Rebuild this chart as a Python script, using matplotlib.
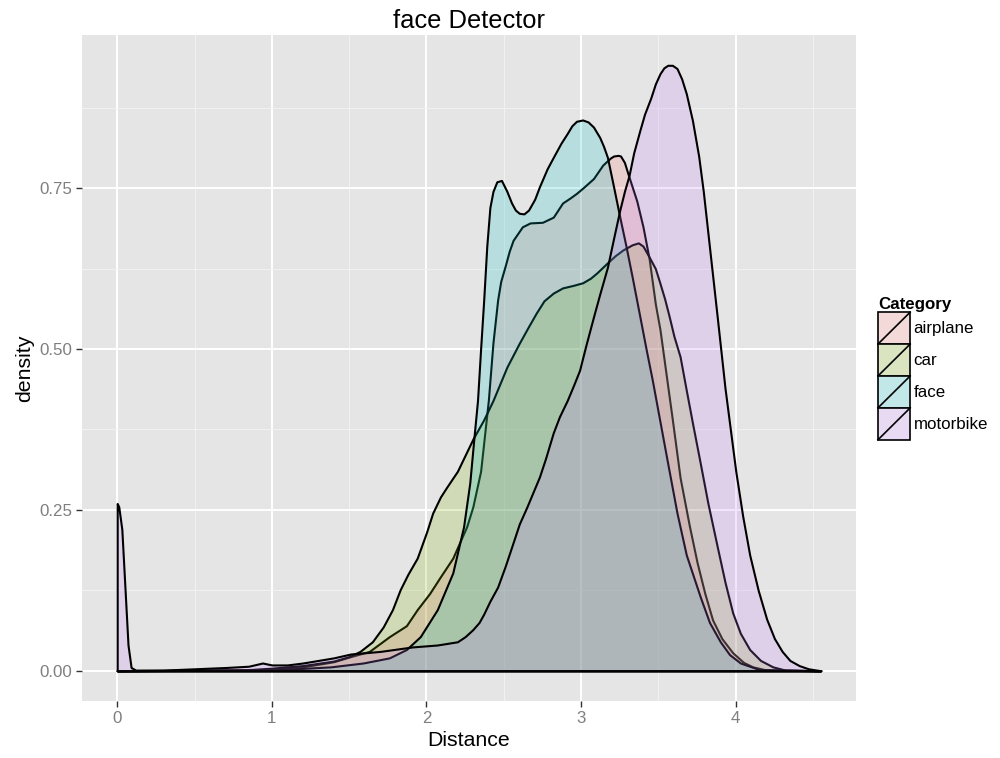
import matplotlib
matplotlib.use("Agg")
import matplotlib.pyplot as plt
from matplotlib.legend_handler import HandlerBase
from matplotlib.patches import Rectangle, Patch
from matplotlib.lines import Line2D
import numpy as np

plt.rcParams["font.family"] = ["Liberation Sans", "DejaVu Sans"]

categories = ["airplane", "car", "face", "motorbike"]
colors = ["#F8766D", "#7CAE00", "#00BFC4", "#C77CFF"]

# density curves
airplane_x = [0, 1.0, 1.2, 1.4, 1.51, 1.63, 1.76, 1.87, 1.94, 2.02, 2.09, 2.17, 2.26,
              2.30, 2.35, 2.40, 2.43, 2.46, 2.48, 2.51, 2.535, 2.56, 2.62, 2.67, 2.75,
              2.82, 2.85, 2.88, 2.93, 2.97, 3.01, 3.08, 3.14, 3.19, 3.21, 3.24, 3.255,
              3.28, 3.31, 3.36, 3.40, 3.44, 3.48, 3.51, 3.55, 3.59, 3.64, 3.70, 3.75,
              3.80, 3.85, 3.91, 3.98, 4.05, 4.11, 4.20, 4.55]
airplane_y = [0, 0.002, 0.006, 0.014, 0.022, 0.030, 0.053, 0.070, 0.095, 0.120, 0.146,
              0.175, 0.224, 0.255, 0.310, 0.420, 0.510, 0.576, 0.605, 0.630, 0.652,
              0.669, 0.690, 0.696, 0.697, 0.705, 0.716, 0.727, 0.735, 0.742, 0.750,
              0.765, 0.786, 0.797, 0.800, 0.801, 0.800, 0.790, 0.767, 0.730, 0.690,
              0.640, 0.570, 0.530, 0.460, 0.390, 0.300, 0.225, 0.168, 0.120, 0.079,
              0.050, 0.028, 0.013, 0.006, 0.001, 0]

car_x = [0, 0.8, 1.0, 1.2, 1.4, 1.5, 1.57, 1.65, 1.72, 1.78, 1.83, 1.88, 1.94, 2.00,
         2.04, 2.09, 2.13, 2.20, 2.25, 2.30, 2.37, 2.43, 2.52, 2.60, 2.66, 2.71, 2.76,
         2.82, 2.88, 2.95, 3.01, 3.06, 3.10, 3.17, 3.22, 3.27, 3.33, 3.37, 3.40, 3.44,
         3.48, 3.51, 3.54, 3.57, 3.60, 3.64, 3.68, 3.72, 3.77, 3.82, 3.88, 3.93, 3.98,
         4.03, 4.09, 4.16, 4.24, 4.32, 4.55]
car_y = [0, 0.001, 0.004, 0.008, 0.015, 0.022, 0.030, 0.045, 0.068, 0.095, 0.126,
         0.150, 0.175, 0.215, 0.245, 0.270, 0.285, 0.310, 0.335, 0.360, 0.390, 0.420,
         0.472, 0.509, 0.535, 0.556, 0.575, 0.587, 0.595, 0.599, 0.603, 0.610, 0.618,
         0.634, 0.645, 0.654, 0.662, 0.665, 0.660, 0.643, 0.625, 0.602, 0.578, 0.550,
         0.520, 0.488, 0.436, 0.385, 0.323, 0.260, 0.193, 0.138, 0.090, 0.058, 0.033,
         0.016, 0.006, 0.001, 0]

face_x = [0, 1.0, 1.38, 1.59, 1.76, 1.87, 1.96, 2.07, 2.17, 2.24, 2.28, 2.31, 2.33,
          2.35, 2.37, 2.39, 2.41, 2.43, 2.455, 2.485, 2.52, 2.55, 2.575, 2.60, 2.63,
          2.66, 2.70, 2.73, 2.78, 2.82, 2.87, 2.91, 2.94, 2.97, 3.01, 3.045, 3.08,
          3.12, 3.145, 3.17, 3.21, 3.25, 3.29, 3.33, 3.38, 3.42, 3.46, 3.50, 3.55,
          3.62, 3.68, 3.77, 3.83, 3.90, 3.96, 4.03, 4.15, 4.55]
face_y = [0, 0.001, 0.006, 0.012, 0.020, 0.033, 0.053, 0.095, 0.152, 0.224, 0.292,
          0.370, 0.420, 0.500, 0.576, 0.660, 0.720, 0.745, 0.760, 0.762, 0.745, 0.727,
          0.716, 0.711, 0.710, 0.716, 0.733, 0.752, 0.780, 0.798, 0.820, 0.835, 0.847,
          0.854, 0.856, 0.853, 0.845, 0.829, 0.815, 0.798, 0.752, 0.705, 0.660, 0.612,
          0.550, 0.500, 0.452, 0.400, 0.335, 0.245, 0.180, 0.115, 0.075, 0.045, 0.025,
          0.012, 0.002, 0]

motorbike_x = [0, 0.01, 0.03, 0.05, 0.07, 0.09, 0.12, 0.3, 0.5, 0.7, 0.85, 0.94, 1.0,
               1.1, 1.2, 1.3, 1.4, 1.51, 1.7, 1.91, 2.07, 2.20, 2.25, 2.30, 2.34, 2.37,
               2.41, 2.46, 2.51, 2.56, 2.60, 2.65, 2.69, 2.73, 2.77, 2.82, 2.86, 2.91,
               2.95, 2.99, 3.03, 3.08, 3.12, 3.17, 3.21, 3.25, 3.28, 3.31, 3.34, 3.38,
               3.41, 3.45, 3.48, 3.51, 3.535, 3.56, 3.59, 3.62, 3.65, 3.68, 3.72, 3.76,
               3.79, 3.82, 3.85, 3.88, 3.905, 3.93, 3.965, 4.00, 4.045, 4.09, 4.145,
               4.20, 4.25, 4.30, 4.35, 4.41, 4.47, 4.55]
motorbike_y = [0.26, 0.255, 0.22, 0.13, 0.04, 0.005, 0.001, 0.001, 0.003, 0.005, 0.007,
               0.012, 0.009, 0.009, 0.012, 0.016, 0.020, 0.026, 0.030, 0.037, 0.040,
               0.045, 0.053, 0.064, 0.075, 0.088, 0.108, 0.130, 0.163, 0.199, 0.228,
               0.255, 0.278, 0.301, 0.330, 0.370, 0.395, 0.420, 0.443, 0.467, 0.505,
               0.550, 0.585, 0.627, 0.672, 0.716, 0.745, 0.770, 0.805, 0.840, 0.865,
               0.890, 0.912, 0.928, 0.937, 0.941, 0.941, 0.936, 0.920, 0.897, 0.855,
               0.800, 0.745, 0.680, 0.615, 0.550, 0.495, 0.440, 0.375, 0.310, 0.240,
               0.180, 0.125, 0.080, 0.050, 0.030, 0.016, 0.008, 0.003, 0]

curves = {
    "airplane": (airplane_x, airplane_y),
    "car": (car_x, car_y),
    "face": (face_x, face_y),
    "motorbike": (motorbike_x, motorbike_y),
}

x_ticks = [0, 1, 2, 3, 4]
y_ticks = [0.0, 0.25, 0.50, 0.75]
y_ticklabels = ["0.00", "0.25", "0.50", "0.75"]


class KeyHandler(HandlerBase):
    # ggplot-style key: grey box, translucent fill, black border + diagonal
    def create_artists(self, legend, orig_handle, xdescent, ydescent,
                       width, height, fontsize, trans):
        x0, y0 = -xdescent, -ydescent
        bg = Rectangle((x0, y0), width, height, facecolor="#F2F2F2",
                       edgecolor="white", lw=1, transform=trans)
        fg = Rectangle((x0, y0), width, height, facecolor=orig_handle.get_facecolor(),
                       edgecolor="black", lw=1.2, transform=trans)
        diag = Line2D([x0, x0 + width], [y0, y0 + height], color="black",
                      lw=1.2, transform=trans)
        return [bg, fg, diag]


fig = plt.figure(figsize=(10, 7.58), dpi=100)
ax = fig.add_axes([0.082, 0.0752, 0.774, 0.8786])
ax.set_facecolor("#E5E5E5")
for s in ax.spines.values():
    s.set_visible(False)

for cat, col in zip(categories, colors):
    xs, ys = curves[cat]
    ax.fill_between(xs, ys, 0, facecolor=matplotlib.colors.to_rgba(col, 0.2),
                    edgecolor="black", linewidth=1.5, joinstyle="round", zorder=3)

all_x = np.concatenate([curves[c][0] for c in categories])
all_y = np.concatenate([curves[c][1] for c in categories])
xr = all_x.max() - all_x.min()
yr = all_y.max() - 0
ax.set_xlim(all_x.min() - 0.05 * xr, all_x.max() + 0.05 * xr)
ax.set_ylim(-0.05 * yr, all_y.max() + 0.05 * yr)

ax.set_xticks(x_ticks)
ax.set_yticks(y_ticks)
ax.set_yticklabels(y_ticklabels)
ax.set_xticks([0.5, 1.5, 2.5, 3.5, 4.5], minor=True)
ax.set_yticks([0.125, 0.375, 0.625, 0.875], minor=True)
ax.grid(which="major", color="white", linewidth=1.4, zorder=1)
ax.grid(which="minor", color="#F2F2F2", linewidth=0.7, zorder=1)
ax.set_axisbelow(True)
ax.tick_params(which="major", direction="out", length=4, width=1, color="#333333",
               labelcolor="#7F7F7F", labelsize=12.2, pad=3)
ax.tick_params(which="minor", length=0)

ax.set_xlabel("Distance", fontsize=15.3, labelpad=4)
ax.set_ylabel("density", fontsize=15.3, labelpad=4)
ax.set_title("face Detector", fontsize=18.4, pad=5)

handles = [Patch(facecolor=matplotlib.colors.to_rgba(c, 0.2), label=cat)
           for cat, c in zip(categories, colors)]
leg = fig.legend(handles=handles, loc="upper left", bbox_to_anchor=(0.878, 0.608),
                 frameon=False, title="Category", fontsize=12.2,
                 title_fontproperties={"weight": "bold", "size": 12.2},
                 handler_map={Patch: KeyHandler()}, handlelength=1.9,
                 handleheight=2.52, labelspacing=0, handletextpad=0.2,
                 borderpad=0, borderaxespad=0, alignment="left")

fig.savefig("out.png", dpi=100)
